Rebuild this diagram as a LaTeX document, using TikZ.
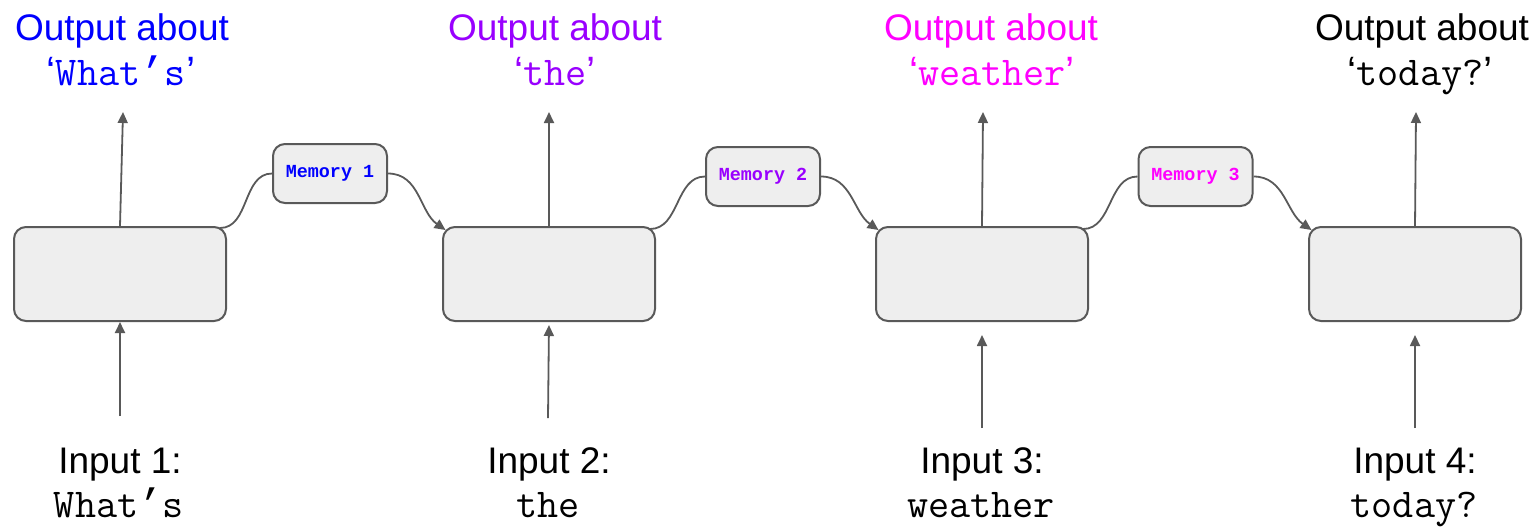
\documentclass[tikz,border=0pt]{standalone}
\usepackage{fontspec}
\setmainfont{Liberation Sans}
\newfontfamily\memfont{Liberation Mono}
\usetikzlibrary{arrows.meta}
\definecolor{boxgray}{HTML}{EEEEEE}
\definecolor{linegray}{HTML}{595959}
\definecolor{outblue}{HTML}{0000FF}
\definecolor{outpurple}{HTML}{9900FF}
\definecolor{outpink}{HTML}{FF00FF}
% sans quotes round a typewriter word
\newcommand{\quoted}[1]{{\rmfamily ‘}#1{\rmfamily ’}}
% slanted apostrophe inside a word
\newcommand{\apos}{{\memfont ’}}

\begin{document}
\begin{tikzpicture}[x=0.5pt,y=-0.5pt]
  \tikzstyle{cell}=[draw=linegray,fill=boxgray,line width=1pt,rounded corners=6pt,minimum width=106pt,minimum height=47pt]
  \tikzstyle{memory}=[cell,minimum width=57pt,minimum height=29.5pt,inner sep=0pt,font=\memfont\bfseries\fontsize{9.2}{11}\selectfont]
  \tikzstyle{flow}=[draw=linegray,line width=0.9pt,-{Triangle[length=5.5pt,width=5pt]}]
  \tikzstyle{headtext}=[inner sep=0pt,anchor=base,font=\fontsize{18.5}{22}\selectfont]
  \tikzstyle{codetext}=[inner sep=0pt,anchor=base,font=\ttfamily\fontsize{20.5}{24}\selectfont]
  \useasboundingbox (0,0) rectangle (1535,526);

  % the four steps
  \node[cell] (cell1) at (120,274) {};
  \node[cell] (cell2) at (549,274) {};
  \node[cell] (cell3) at (982,274) {};
  \node[cell] (cell4) at (1415,274) {};

  % memory passed along
  \node[memory,text=outblue] (mem1) at (330,173.5) {Memory 1};
  \node[memory,text=outpurple] (mem2) at (763,176.5) {Memory 2};
  \node[memory,text=outpink] (mem3) at (1195.5,176.5) {Memory 3};

  % outputs
  \node[headtext,text=outblue] (head1) at (122,40) {Output about};
  \node[codetext,text=outblue] (word1) at (121,85) {\quoted{What\apos s}};
  \node[headtext,text=outpurple] (head2) at (555,40) {Output about};
  \node[codetext,text=outpurple] (word2) at (555,85) {\quoted{the}};
  \node[headtext,text=outpink] (head3) at (991,40) {Output about};
  \node[codetext,text=outpink] (word3) at (992,85) {\quoted{weather}};
  \node[headtext] (head4) at (1422,40) {Output about};
  \node[codetext] (word4) at (1420,85) {\quoted{today?}};

  % inputs
  \node[headtext] (input1) at (120,473) {Input 1:};
  \node[codetext] (token1) at (119,517) {What\apos s};
  \node[headtext] (input2) at (549,473) {Input 2:};
  \node[codetext] (token2) at (548,517) {the};
  \node[headtext] (input3) at (982,473) {Input 3:};
  \node[codetext] (token3) at (981,517) {weather};
  \node[headtext] (input4) at (1415,473) {Input 4:};
  \node[codetext] (token4) at (1414,517) {today?};

  % arrow ends
  \coordinate (up1) at (123,112);
  \coordinate (up2) at (549,112);
  \coordinate (up3) at (983,112);
  \coordinate (up4) at (1416,112);
  \coordinate (in1) at (120,416);
  \coordinate (in2) at (548,418);
  \coordinate (in3) at (982,428);
  \coordinate (in4) at (1415,428);

  \draw[flow] (cell1.north) -- (up1);
  \draw[flow] (cell2.north) -- (up2);
  \draw[flow] (cell3.north) -- (up3);
  \draw[flow] (cell4.north) -- (up4);

  \draw[flow] (in1) -- (cell1.south);
  \draw[flow,shorten >=1.5pt] (in2) -- (cell2.south);
  \draw[flow,shorten >=6.5pt] (in3) -- (cell3.south);
  \draw[flow,shorten >=6.5pt] (in4) -- (cell4.south);

  \draw[flow,-] ([xshift=-3.5pt,yshift=-1pt]cell1.north east) to[out=0,in=180] (mem1.west);
  \draw[flow] (mem1.east) to[out=0,in=145] ([xshift=1.75pt,yshift=-2pt]cell2.north west);
  \draw[flow,-] ([xshift=-3pt,yshift=-1.5pt]cell2.north east) to[out=0,in=180] (mem2.west);
  \draw[flow] (mem2.east) to[out=0,in=145] ([xshift=1.75pt,yshift=-2pt]cell3.north west);
  \draw[flow,-] ([xshift=-3pt,yshift=-1.5pt]cell3.north east) to[out=0,in=180] (mem3.west);
  \draw[flow] (mem3.east) to[out=0,in=145] ([xshift=1.75pt,yshift=-2pt]cell4.north west);
\end{tikzpicture}
\end{document}
